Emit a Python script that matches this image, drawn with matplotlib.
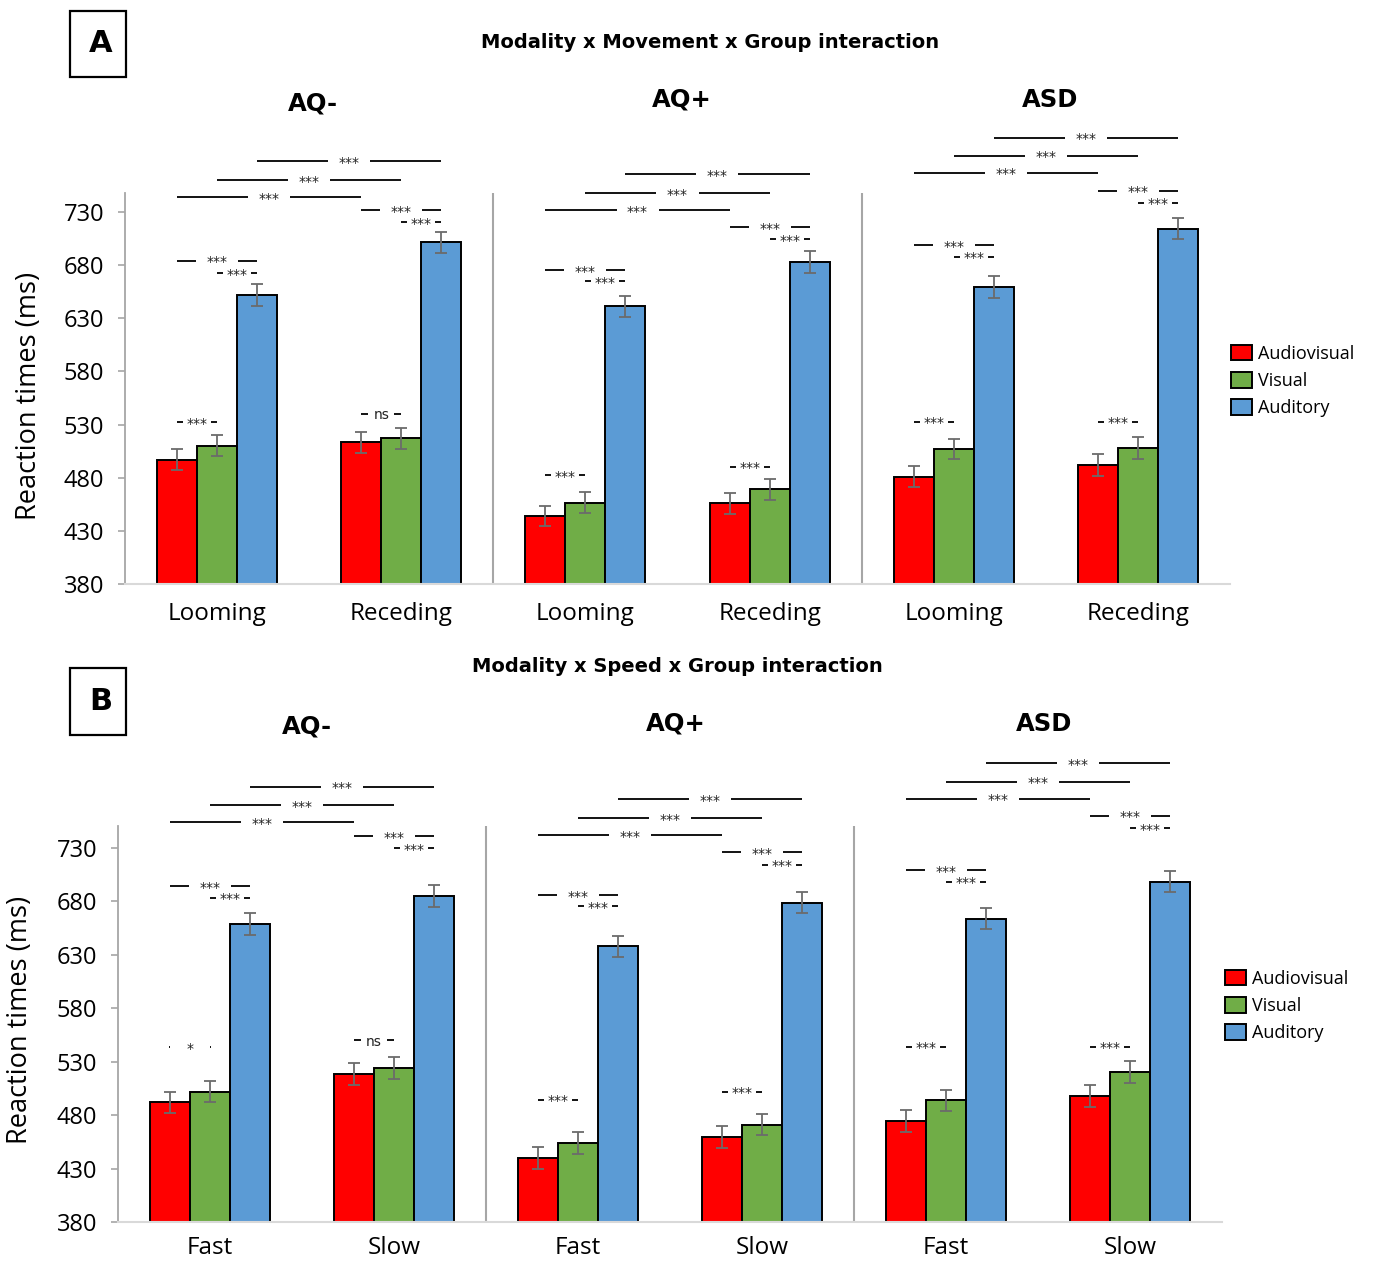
import numpy as np
import matplotlib
matplotlib.use("Agg")
import matplotlib.pyplot as plt
from matplotlib.patches import Rectangle

# ---------------- data ----------------
modalities = ["Audiovisual", "Visual", "Auditory"]
groups = ["AQ-", "AQ+", "ASD"]

movement_labels = ["Looming", "Receding", "Looming", "Receding", "Looming", "Receding"]
av_move = [497, 513.5, 444, 456, 481, 492]
vis_move = [510, 517, 456.5, 469, 507, 508]
aud_move = [652, 701.5, 641.5, 683, 659.5, 714.5]
err_move_av = [10, 10, 9.5, 10, 10, 10]
err_move_vis = [10, 9.5, 10, 10, 9.5, 10]
err_move_aud = [10, 10, 10, 10, 10, 10]

speed_labels = ["Fast", "Slow", "Fast", "Slow", "Fast", "Slow"]
av_speed = [492, 518.5, 440, 459.5, 474.5, 498]
vis_speed = [502, 524, 454, 471, 494, 520.5]
aud_speed = [659, 685, 638, 679, 664, 698.5]
err_speed_av = [10, 10, 10, 10, 10, 10]
err_speed_vis = [10, 10, 10, 10, 10, 10]
err_speed_aud = [10, 10, 10, 10, 10, 10]

yticks = [380, 430, 480, 530, 580, 630, 680, 730]

# significance annotations: (slot_a, bar_a, slot_b, bar_b, y, label, wide_gap)
annot_move = [
    (0, 0, 1, 0, 744, "***", True), (0, 1, 1, 1, 760, "***", True), (0, 2, 1, 2, 778, "***", True),
    (0, 0, 0, 2, 684, "***", True), (0, 1, 0, 2, 672.6, "***", False), (0, 0, 0, 1, 532.4, "***", False),
    (1, 0, 1, 2, 731.8, "***", True), (1, 1, 1, 2, 720.5, "***", False), (1, 0, 1, 1, 540, "ns", False),
    (2, 0, 3, 0, 731.8, "***", True), (2, 1, 3, 1, 748, "***", True), (2, 2, 3, 2, 765.7, "***", True),
    (2, 0, 2, 2, 675.4, "***", True), (2, 1, 2, 2, 665, "***", False), (2, 0, 2, 1, 482.5, "***", False),
    (3, 0, 3, 2, 716, "***", True), (3, 1, 3, 2, 704.3, "***", False), (3, 0, 3, 1, 490.3, "***", False),
    (4, 0, 5, 0, 767, "***", True), (4, 1, 5, 1, 783, "***", True), (4, 2, 5, 2, 800.2, "***", True),
    (4, 0, 4, 2, 699, "***", True), (4, 1, 4, 2, 688, "***", False), (4, 0, 4, 1, 532.7, "***", False),
    (5, 0, 5, 2, 750, "***", True), (5, 1, 5, 2, 738.7, "***", False), (5, 0, 5, 1, 532.7, "***", False),
]
annot_speed = [
    (0, 0, 1, 0, 754, "***", True), (0, 1, 1, 1, 770.2, "***", True), (0, 2, 1, 2, 787.4, "***", True),
    (0, 0, 0, 2, 694.4, "***", True), (0, 1, 0, 2, 683.5, "***", False), (0, 0, 0, 1, 543.5, "*", True),
    (1, 0, 1, 2, 741.2, "***", True), (1, 1, 1, 2, 730, "***", False), (1, 0, 1, 1, 550.3, "ns", False),
    (2, 0, 3, 0, 742.1, "***", True), (2, 1, 3, 1, 758, "***", True), (2, 2, 3, 2, 775.6, "***", True),
    (2, 0, 2, 2, 686, "***", True), (2, 1, 2, 2, 675.7, "***", False), (2, 0, 2, 1, 494.2, "***", False),
    (3, 0, 3, 2, 726.2, "***", True), (3, 1, 3, 2, 714.4, "***", False), (3, 0, 3, 1, 501.9, "***", False),
    (4, 0, 5, 0, 776.1, "***", True), (4, 1, 5, 1, 792, "***", True), (4, 2, 5, 2, 809.2, "***", True),
    (4, 0, 4, 2, 709.4, "***", True), (4, 1, 4, 2, 698.5, "***", False), (4, 0, 4, 1, 544, "***", False),
    (5, 0, 5, 2, 760, "***", True), (5, 1, 5, 2, 748.7, "***", False), (5, 0, 5, 1, 544, "***", False),
]

# ---------------- style / layout ----------------
colors = ["#FF0000", "#70AD47", "#5B9BD5"]
W, H = 1373, 1262
fig = plt.figure(figsize=(W / 100, H / 100), dpi=100)
TICKFONT = "Open Sans"
BOLDFONT = "DejaVu Sans"
BW = 0.217


def fx(px):
    return px / W


def fy(py):
    return 1 - py / H


def draw_panel(ax, labels, series, errs, annots, ytop, xpad):
    x = np.arange(len(labels))
    for k in range(3):
        ax.bar(x + (k - 1) * BW, series[k], BW, color=colors[k], edgecolor="black",
               linewidth=1.4, label=modalities[k], zorder=2)
        ax.errorbar(x + (k - 1) * BW, series[k], yerr=errs[k], fmt="none", ecolor="#6b6b6b",
                    elinewidth=1.3, capsize=4, capthick=1.3, zorder=3)
    ax.set_xlim(-0.5, len(labels) - 0.5)
    ax.set_ylim(380, ytop)
    ax.set_yticks(yticks)
    ax.set_yticklabels([str(t) for t in yticks], fontsize=17, family=TICKFONT)
    ax.set_xticks(x)
    ax.set_xticklabels(labels, fontsize=17.5, family=TICKFONT)
    ax.tick_params(axis="x", length=0, pad=xpad)
    ax.tick_params(axis="y", length=5, color="#A6A6A6", width=1.2, pad=10)
    for s in ["top", "right"]:
        ax.spines[s].set_visible(False)
    ax.spines["left"].set_color("#A6A6A6")
    ax.spines["left"].set_linewidth(1.3)
    ax.spines["bottom"].set_color("#D9D9D9")
    ax.spines["bottom"].set_linewidth(1.5)
    for sep in [1.5, 3.5]:
        ax.axvline(sep, color="#A6A6A6", lw=1.5, zorder=1)
    ax.set_ylabel("Reaction times (ms)", fontsize=19.5, family=TICKFONT, labelpad=4)
    # significance lines
    pxu = 1.0 / 184.0
    for sa, ba, sb, bb, y, lab, wide in annots:
        x1 = sa + (ba - 1) * BW
        x2 = sb + (bb - 1) * BW
        xc = (x1 + x2) / 2
        gap = (42 if wide else 28) * pxu / 2
        if lab == "ns":
            gap = 26 * pxu / 2
        ax.plot([x1, xc - gap], [y, y], color="black", lw=1.3, clip_on=False, zorder=4,
                solid_capstyle="butt")
        ax.plot([xc + gap, x2], [y, y], color="black", lw=1.3, clip_on=False, zorder=4,
                solid_capstyle="butt")
        ax.text(xc, y, lab, ha="center", va="center_baseline", fontsize=10,
                family="DejaVu Sans", color="#222222", clip_on=False, zorder=5)


# Panel A
axA = fig.add_axes([fx(125), fy(584), fx(1230 - 125), (584 - 193) / H])
draw_panel(axA, movement_labels, [av_move, vis_move, aud_move],
           [err_move_av, err_move_vis, err_move_aud], annot_move, 748, 13)
axA.yaxis.set_label_coords(-0.074, 0.48)
axA.legend(loc="center left", bbox_to_anchor=(fx(1231), fy(381)), bbox_transform=fig.transFigure,
           frameon=False, prop={"family": TICKFONT, "size": 13}, handlelength=1.15,
           handleheight=0.95, handletextpad=0.35, labelspacing=0.52, borderpad=0,
           borderaxespad=0)

# Panel B
axB = fig.add_axes([fx(118), fy(1222), fx(1222 - 118), (1222 - 826) / H])
draw_panel(axB, speed_labels, [av_speed, vis_speed, aud_speed],
           [err_speed_av, err_speed_vis, err_speed_aud], annot_speed, 750.6, 10)
axB.yaxis.set_label_coords(-0.076, 0.51)
axB.legend(loc="center left", bbox_to_anchor=(fx(1225), fy(1006)), bbox_transform=fig.transFigure,
           frameon=False, prop={"family": TICKFONT, "size": 13}, handlelength=1.15,
           handleheight=0.95, handletextpad=0.35, labelspacing=0.52, borderpad=0,
           borderaxespad=0)

# Titles
fig.text(fx(710), fy(42), "Modality x Movement x Group interaction", ha="center", va="center",
         fontsize=14, fontweight="bold", family=BOLDFONT)
fig.text(fx(677), fy(667), "Modality x Speed x Group interaction", ha="center", va="center",
         fontsize=14, fontweight="bold", family=BOLDFONT)

for (gx, gy), g in zip([(313, 103), (682, 100), (1050, 100)], groups):
    fig.text(fx(gx), fy(gy), g, ha="center", va="center", fontsize=17.5, fontweight="bold",
             family=BOLDFONT)
for (gx, gy), g in zip([(307, 727), (676, 724), (1044, 724)], groups):
    fig.text(fx(gx), fy(gy), g, ha="center", va="center", fontsize=17.5, fontweight="bold",
             family=BOLDFONT)

# Panel letters
for letter, (x0, y0, x1, y1) in [("A", (70, 11, 126, 77)), ("B", (70, 668, 126, 735))]:
    fig.patches.append(Rectangle((fx(x0), fy(y1)), fx(x1 - x0), (y1 - y0) / H, fill=False,
                                 edgecolor="black", lw=1.6, transform=fig.transFigure))
    fig.text(fx((x0 + x1) / 2) + 0.002, fy((y0 + y1) / 2), letter, ha="center", va="center",
             fontsize=22, fontweight="bold", family=BOLDFONT)

fig.savefig("out.png", dpi=100)
